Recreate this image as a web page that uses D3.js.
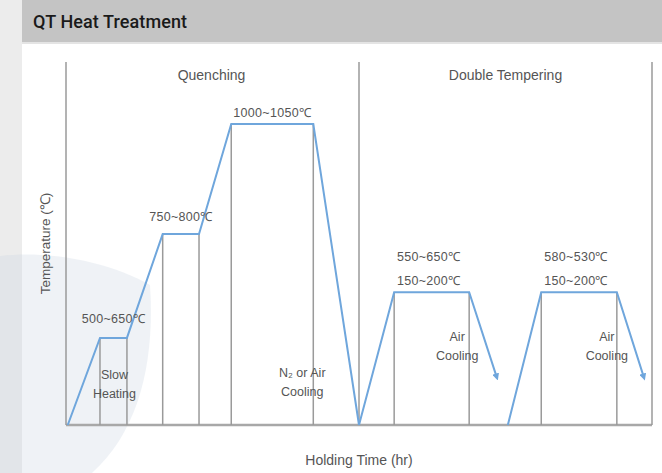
<!DOCTYPE html>
<html><head><meta charset="utf-8">
<script src="https://cdn.jsdelivr.net/npm/d3@7"></script>
<style>html,body{margin:0;padding:0;background:#fff;}svg{display:block;}</style>
</head><body>
<script>
// ---- data (schematic time / temperature units) ----
const chartTitle = "QT Heat Treatment";
const stageNames = ["Quenching", "Double Tempering"];
const stageBounds = [0, 50, 100];
const quenchTime = [0.3, 5.8, 10.4, 16.5, 22.7, 28.2, 42.2, 50.0];
const quenchTemp = [0, 24, 24, 52.6, 52.6, 82.9, 82.9, 0];
const temper1Time = [50.0, 56.0, 68.8, 73.5];
const temper1Temp = [0, 36.6, 36.6, 13.2];
const temper2Time = [75.4, 81.1, 94.0, 98.6];
const temper2Temp = [0, 36.6, 36.6, 13.2];
const plateauLabels = [["500~650℃"], ["750~800℃"], ["1000~1050℃"], ["550~650℃", "150~200℃"], ["580~530℃", "150~200℃"]];
const processNotes = [["Slow", "Heating"], ["N₂ or Air", "Cooling"], ["Air", "Cooling"], ["Air", "Cooling"]];
const xLabel = "Holding Time (hr)";
const yLabel = "Temperature (℃)";

const W = 662, H = 473;
const svg = d3.select("body").append("svg").attr("width", W).attr("height", H);

// background
svg.append("rect").attr("width", W).attr("height", H).attr("fill", "#fff");
svg.append("rect").attr("x", 0).attr("y", 0).attr("width", 22).attr("height", H).attr("fill", "#ececec");
svg.append("path")
  .attr("d", "M0,256 C50,250 110,262 150,285 C155,360 140,430 92,473 L0,473 Z")
  .attr("fill", "#c9d3e2").attr("opacity", 0.3);
svg.append("rect").attr("x", 22).attr("y", 0).attr("width", W - 22).attr("height", 42).attr("fill", "#c4c4c4");
svg.append("rect").attr("x", 22).attr("y", 42).attr("width", W - 22).attr("height", 2).attr("fill", "#e4e4e4");
svg.append("text").attr("x", 33).attr("y", 28).text(chartTitle)
  .attr("font-family", "Roboto, 'Liberation Sans', sans-serif").attr("font-weight", 500)
  .attr("font-size", 18).attr("fill", "#1a1a1a").attr("letter-spacing", 0.1);

// scales
const x = d3.scaleLinear().domain([0, 100]).range([66, 652]);
const y = d3.scaleLinear().domain([0, 100]).range([425, 62]);

const gray = "#9a9a9a", blue = "#6fa6dc", txt = "#555";
const font = "'Liberation Sans', Arial, sans-serif";

// axes frame
svg.append("line").attr("x1", x(0)).attr("x2", x(100)).attr("y1", y(0)).attr("y2", y(0))
  .attr("stroke", "#a8a8a8").attr("stroke-width", 2.5);
stageBounds.forEach(b => {
  svg.append("line").attr("x1", x(b)).attr("x2", x(b)).attr("y1", y(0)).attr("y2", y(100))
    .attr("stroke", gray).attr("stroke-width", 1.5);
});

// profiles
const profiles = [
  {t: quenchTime, v: quenchTemp, arrow: false},
  {t: temper1Time, v: temper1Temp, arrow: true},
  {t: temper2Time, v: temper2Temp, arrow: true}
];

// plateaus & hold lines
const plateaus = [];
profiles.forEach(p => {
  for (let i = 0; i < p.t.length - 1; i++) {
    if (p.v[i] === p.v[i + 1] && p.v[i] > 0) plateaus.push({t0: p.t[i], t1: p.t[i + 1], v: p.v[i]});
  }
});
plateaus.forEach(pl => {
  [pl.t0, pl.t1].forEach(t => {
    svg.append("line").attr("x1", x(t)).attr("x2", x(t)).attr("y1", y(pl.v)).attr("y2", y(0))
      .attr("stroke", gray).attr("stroke-width", 1.5);
  });
});

svg.append("defs").append("marker").attr("id", "arr")
  .attr("viewBox", "0 0 10 10").attr("refX", 5).attr("refY", 5)
  .attr("markerWidth", 3.5).attr("markerHeight", 3.5).attr("orient", "auto")
  .append("path").attr("d", "M0,0 L10,5 L0,10 Z").attr("fill", blue);

const line = d3.line().x(d => x(d[0])).y(d => y(d[1]));
profiles.forEach(p => {
  const pts = p.t.map((t, i) => [t, p.v[i]]);
  const path = svg.append("path").attr("d", line(pts)).attr("fill", "none")
    .attr("stroke", blue).attr("stroke-width", 2).attr("stroke-linejoin", "miter");
  if (p.arrow) path.attr("marker-end", "url(#arr)");
});

// plateau labels
const labelOffsets = [15, 13, 7, 7, 7];
plateaus.forEach((pl, i) => {
  const lines = plateauLabels[i];
  const cx = (x(pl.t0) + x(pl.t1)) / 2 - (i >= 3 ? 3 : 0);
  lines.forEach((s, j) => {
    svg.append("text").attr("x", cx)
      .attr("y", y(pl.v) - labelOffsets[i] - (lines.length - 1 - j) * 24)
      .attr("text-anchor", "middle").attr("font-family", font).attr("font-size", 12.5)
      .attr("fill", txt).attr("letter-spacing", 0.3).text(s);
  });
});

// process notes
const noteAnchors = [
  {cx: (x(plateaus[0].t0) + x(plateaus[0].t1)) / 2 + 1, y0: 379},
  {cx: x(plateaus[2].t1) - 11, y0: 377},
  {cx: x(plateaus[3].t1) - 12, y0: 341},
  {cx: x(plateaus[4].t1) - 10, y0: 341}
];
processNotes.forEach((lines, i) => {
  lines.forEach((s, j) => {
    svg.append("text").attr("x", noteAnchors[i].cx).attr("y", noteAnchors[i].y0 + j * 19)
      .attr("text-anchor", "middle").attr("font-family", font).attr("font-size", 12.5)
      .attr("fill", txt).attr("letter-spacing", 0).text(s);
  });
});

// stage titles
stageNames.forEach((s, i) => {
  svg.append("text").attr("x", (x(stageBounds[i]) + x(stageBounds[i + 1])) / 2 + (i === 0 ? -1 : 0))
    .attr("y", 80).attr("text-anchor", "middle").attr("font-family", font)
    .attr("font-size", 14).attr("fill", txt).text(s);
});

// axis titles
svg.append("text").attr("x", (x(0) + x(100)) / 2).attr("y", 465).attr("text-anchor", "middle")
  .attr("font-family", font).attr("font-size", 14).attr("fill", txt).text(xLabel);
svg.append("text").attr("transform", `translate(50,${(y(0) + y(100)) / 2}) rotate(-90)`)
  .attr("text-anchor", "middle").attr("font-family", font).attr("font-size", 13.5)
  .attr("fill", txt).text(yLabel);
</script>
</body></html>
